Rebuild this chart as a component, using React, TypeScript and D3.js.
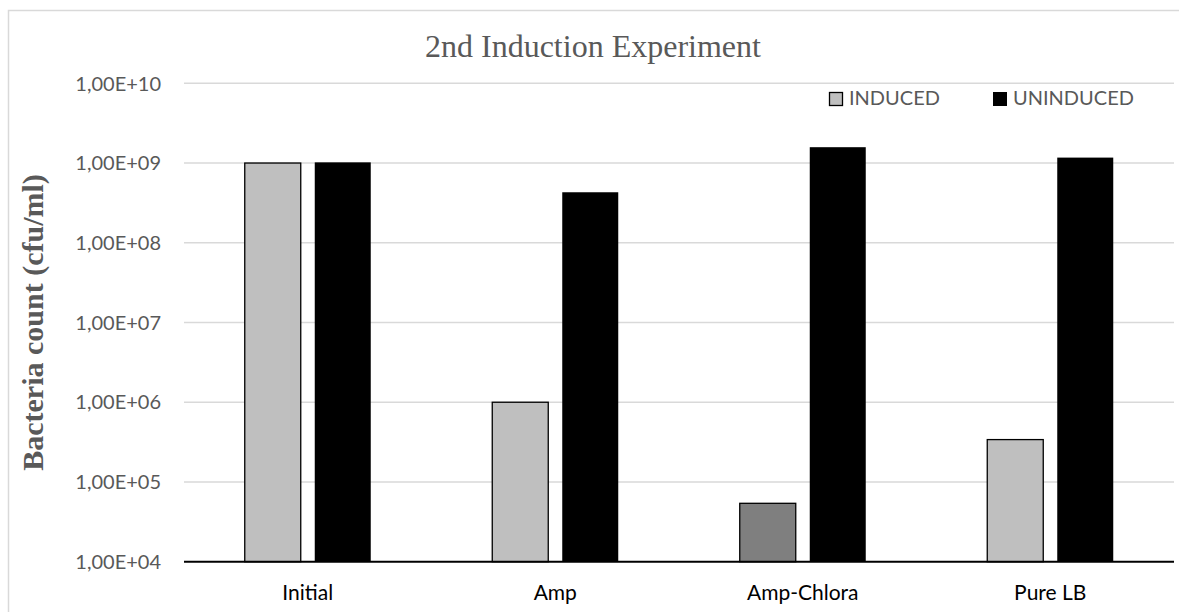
import React from "react";
import * as d3 from "d3";

const categories = ["Initial", "Amp", "Amp-Chlora", "Pure LB"];
const seriesNames = ["INDUCED", "UNINDUCED"];
const inducedValues = [1.0e9, 1.0e6, 5.4e4, 3.4e5];
const uninducedValues = [1.02e9, 4.3e8, 1.58e9, 1.17e9];
const inducedColors = ["#BFBFBF", "#BFBFBF", "#7F7F7F", "#BFBFBF"];
const tickValues = [1e4, 1e5, 1e6, 1e7, 1e8, 1e9, 1e10];

const W = 1179;
const H = 612;
const plotLeft = 184;
const plotRight = 1174;
const plotTop = 83.3;
const plotBottom = 561.7;

const sansFont = "Lato, 'Liberation Sans', sans-serif";
const serifFont = "'Liberation Serif', 'DejaVu Serif', serif";

function fmtTick(v: number): string {
  const e = Math.round(Math.log10(v));
  return "1,00E+" + String(e).padStart(2, "0");
}

export default function App() {
  const x0 = d3.scaleBand<string>().domain(categories).range([plotLeft, plotRight]).padding(0);
  const y = d3.scaleLog().domain([1e4, 1e10]).range([plotBottom, plotTop]);
  const groupW = 126;
  const x1 = d3.scaleBand<string>().domain(seriesNames).range([0, groupW]).paddingInner(0.2).paddingOuter(0);

  return (
    <svg width={W} height={H} style={{ position: "absolute", left: 0, top: 0, background: "#fff" }}>
      <rect x={0} y={0} width={W} height={H} fill="#fff" />
      <rect x={8.5} y={10.5} width={W + 20} height={H + 20} fill="none" stroke="#D9D9D9" strokeWidth={1.5} />
      <text x={425} y={57} fontFamily={serifFont} fontSize={32} fill="#595959">
        2nd Induction Experiment
      </text>
      <text
        transform={`translate(43, ${(plotTop + plotBottom) / 2}) rotate(-90)`}
        textAnchor="middle"
        fontFamily={serifFont}
        fontWeight="bold"
        fontSize={30}
        fill="#595959"
      >
        Bacteria count (cfu/ml)
      </text>
      {tickValues.map((t) => (
        <g key={t}>
          {t !== 1e4 && (
            <line x1={plotLeft} x2={plotRight} y1={y(t)} y2={y(t)} stroke="#D9D9D9" strokeWidth={1.5} />
          )}
          <text
            x={161}
            y={y(t)}
            dy="0.36em"
            textAnchor="end"
            fontFamily={sansFont}
            fontSize={20}
            fill="#595959"
          >
            {fmtTick(t)}
          </text>
        </g>
      ))}
      {categories.map((c, i) => {
        const gx = (x0(c) as number) + x0.bandwidth() / 2 - groupW / 2;
        const vals = [inducedValues[i], uninducedValues[i]];
        return (
          <g key={c}>
            {seriesNames.map((s, j) => {
              const v = vals[j];
              const bx = gx + (x1(s) as number);
              const by = y(v);
              return (
                <rect
                  key={s}
                  x={bx}
                  y={by}
                  width={x1.bandwidth()}
                  height={plotBottom - by}
                  fill={j === 0 ? inducedColors[i] : "#000"}
                  stroke="#000"
                  strokeWidth={j === 0 ? 1.3 : 0}
                />
              );
            })}
            <text
              x={(x0(c) as number) + x0.bandwidth() / 2}
              y={600}
              textAnchor="middle"
              fontFamily={sansFont}
              fontSize={21}
              fill="#000"
            >
              {c}
            </text>
          </g>
        );
      })}
      <line x1={plotLeft} x2={plotRight} y1={plotBottom} y2={plotBottom} stroke="#000" strokeWidth={2} />
      <g>
        <rect x={829.5} y={92.5} width={13} height={13} fill="#BFBFBF" stroke="#000" strokeWidth={1.3} />
        <text x={849} y={105} fontFamily={sansFont} fontSize={20} fill="#595959">
          {seriesNames[0]}
        </text>
        <rect x={993} y={92} width={14} height={14} fill="#000" />
        <text x={1013} y={105} fontFamily={sansFont} fontSize={20} fill="#595959">
          {seriesNames[1]}
        </text>
      </g>
    </svg>
  );
}
